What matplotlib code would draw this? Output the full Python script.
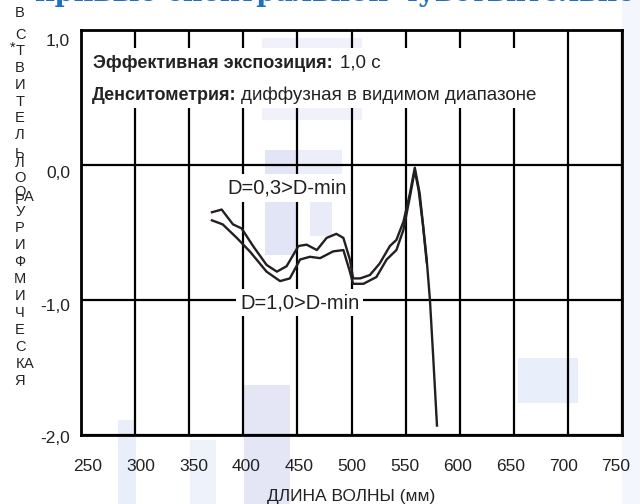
import matplotlib
matplotlib.use('Agg')
import matplotlib.pyplot as plt
from matplotlib.transforms import ScaledTranslation
from matplotlib.patches import Rectangle

plt.rcParams['font.family'] = ['Liberation Sans', 'DejaVu Sans']

# данные
wl_03 = [371, 380, 390.5, 398.5, 409, 421.5, 431, 440, 451, 458.5, 468, 477, 486,
         492.5, 498.5, 501.5, 508, 517, 526, 535.5, 541.5, 548, 554, 558.5, 563,
         569.5, 572.5, 575.5, 579]
sens_03 = [-0.35, -0.33, -0.44, -0.47, -0.6, -0.74, -0.79, -0.75, -0.6, -0.59, -0.63,
           -0.54, -0.51, -0.54, -0.7, -0.84, -0.84, -0.815, -0.73, -0.6, -0.555, -0.42,
           -0.21, -0.02, -0.21, -0.7, -1.0, -1.42, -1.93]

wl_10 = [371, 381, 394, 406, 421.5, 434, 443, 452.5, 461.5, 471, 483, 492.5, 498.5,
         501.5, 511, 523, 532.5, 541.5, 548, 554, 558.5, 562, 566, 569.5]
sens_10 = [-0.41, -0.44, -0.54, -0.64, -0.79, -0.86, -0.84, -0.7, -0.68, -0.69, -0.64,
           -0.63, -0.79, -0.88, -0.88, -0.83, -0.7, -0.63, -0.48, -0.235, -0.04, -0.185,
           -0.44, -0.72]

xticks = list(range(250, 751, 50))
yticks = [-2, -1, 0, 1]
ytick_labels = ['-2,0', '-1,0', '0,0', '1,0']

# буквы вертикальной подписи: (y в пикселях, x в пикселях, буква)
ylabel_letters = [(13, 20, 'В'), (35, 20, 'С'), (51, 20, 'Т'), (48, 13, '*'), (68, 20, 'В'),
                  (85, 20, 'И'), (102, 20, 'Т'), (118, 20, 'Е'), (135, 20, 'Л'),
                  (154, 20, 'Ь'), (163, 20, 'Л'), (178, 20, 'О'), (192, 20, 'О'),
                  (197, 29, 'А'), (200, 20, 'Р'), (212, 20, 'У'), (228, 20, 'Р'),
                  (245, 20, 'И'), (262, 20, 'Ф'), (279, 20, 'М'), (296, 20, 'И'),
                  (313, 20, 'Ч'), (330, 20, 'Е'), (347, 20, 'С'), (364, 20, 'К'),
                  (364, 29, 'А'), (381, 20, 'Я')]

ink = '#231f20'
txt = '#222222'

fig = plt.figure(figsize=(6.4, 5.04), dpi=100)

# бледные пятна фона (водяной знак)
fon = [(265, 150, 32, 105, '#e2e5f5'), (297, 150, 45, 28, '#eceef9'),
       (310, 198, 22, 38, '#e9ebf8'), (244, 385, 46, 119, '#e4e6f5'),
       (118, 420, 18, 84, '#e8eefa'), (190, 440, 26, 64, '#edf2fb'),
       (622, 0, 18, 504, '#f3f6fd'), (518, 358, 60, 45, '#e8eefa'),
       (262, 38, 100, 10, '#f0f1fa'), (262, 108, 100, 12, '#f0f1fa')]
for x0, y0, w, h, c in fon:
    fig.patches.append(Rectangle((x0/640, 1-(y0+h)/504), w/640, h/504, transform=fig.transFigure,
                                 facecolor=c, edgecolor='none', zorder=-5))

ax = fig.add_axes([81/640, 1-435/504, 541/640, 405/504])
ax.patch.set_alpha(0)
ax.set_xlim(250, 750)
ax.set_ylim(-2, 1)
ax.set_xticks(xticks)
ax.set_yticks(yticks)
ax.set_yticklabels(ytick_labels)
ax.grid(True, color='black', lw=1.6)
ax.set_axisbelow(True)
for s in ax.spines.values():
    s.set_linewidth(2)
ax.tick_params(length=0, labelsize=12.5, colors=txt)
ax.tick_params(axis='x', pad=17)
ax.tick_params(axis='y', pad=8)

# подписи чуть сдвинуты, как в оригинале
for i, lab in enumerate(ax.get_xticklabels()):
    lab.set_transform(lab.get_transform() + ScaledTranslation((7 - 1.3*i)/100, 0, fig.dpi_scale_trans))
for lab, dy in zip(ax.get_yticklabels(), [-2, -5, -7, -10]):
    lab.set_transform(lab.get_transform() + ScaledTranslation(0, dy/100, fig.dpi_scale_trans))

ax.plot(wl_03, sens_03, color=ink, lw=1.7, solid_joinstyle='round', zorder=3)
ax.plot(wl_10, sens_10, color=ink, lw=1.7, solid_joinstyle='round', zorder=3)

# белая подложка под текстом
ax.add_patch(Rectangle(((84-81)/541, 1-(108-30)/405), (556-84)/541, (108-48)/405,
                       transform=ax.transAxes, facecolor='white', edgecolor='none', zorder=2))
t1 = ax.text((93-81)/541, 1-(63-30)/405, 'Эффективная экспозиция:', transform=ax.transAxes,
             fontsize=13, fontweight='bold', va='center', color=txt, zorder=4)
ax.annotate('1,0 с', xy=(1, 0), xycoords=t1, xytext=(5, 0), textcoords='offset points',
            fontsize=13.5, va='bottom', color=txt, zorder=4)
t2 = ax.text((92-81)/541, 1-(96-30)/405, 'Денситометрия:', transform=ax.transAxes,
             fontsize=13, fontweight='bold', va='center', color=txt, zorder=4)
ax.annotate('диффузная в видимом диапазоне', xy=(1, 0), xycoords=t2, xytext=(3, 0),
            textcoords='offset points', fontsize=13.5, va='bottom', color=txt, zorder=4)

ax.text(440, -0.17, 'D=0,3>D-min', fontsize=14.5, ha='center', va='center', color=ink, zorder=4,
        bbox=dict(facecolor='white', edgecolor='none', pad=3))
ax.text(452, -1.02, 'D=1,0>D-min', fontsize=14.5, ha='center', va='center', color=ink, zorder=4,
        bbox=dict(facecolor='white', edgecolor='none', pad=3))

ax.set_xlabel('ДЛИНА ВОЛНЫ (мм)', fontsize=12.5, color=txt, labelpad=11)

# вертикальная подпись из отдельных букв
for y, x, ch in ylabel_letters:
    fig.text(x/640, 1-y/504, ch, fontsize=10.5, ha='center', va='center', color=txt)

# обрезанный заголовок
fig.text(35/640, 1-1/504, 'кривые спектральной чувствительности', fontsize=19.5,
         fontweight='bold', family='DejaVu Serif', color='#1f6fc5', va='baseline')

fig.savefig('out.png', dpi=100)
